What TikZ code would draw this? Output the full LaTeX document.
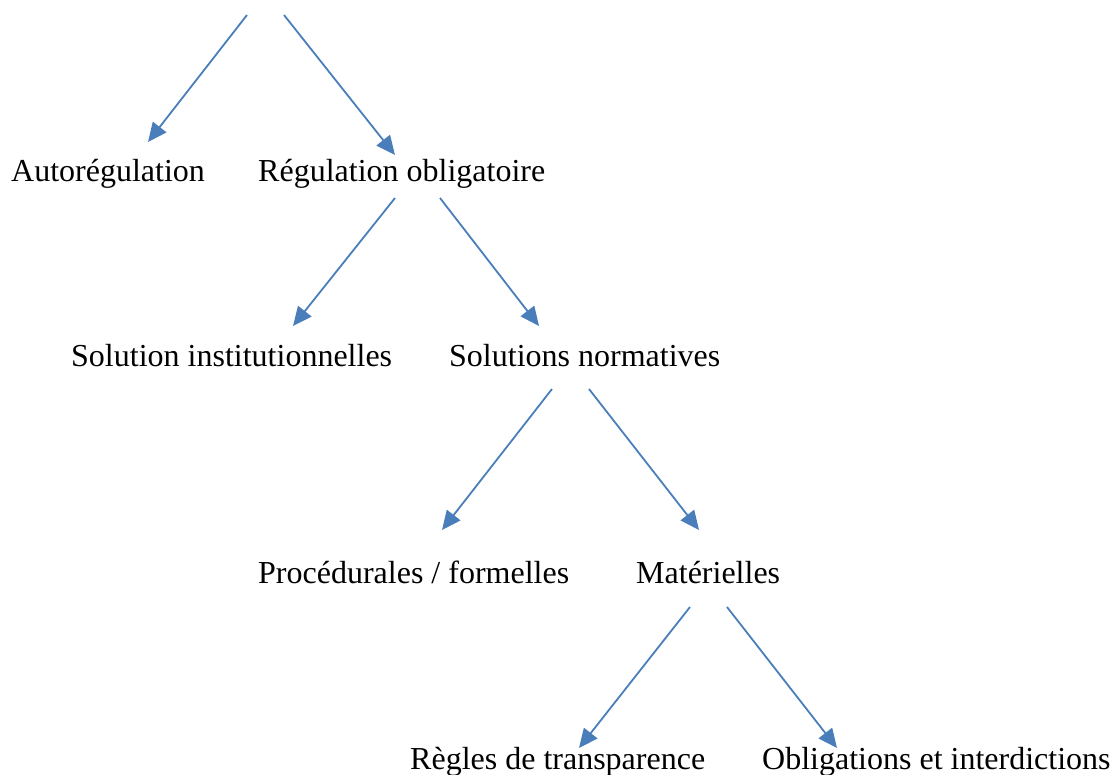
\documentclass[tikz,border=0pt]{standalone}
\usepackage{fontspec}
\setmainfont{Liberation Serif}
\usetikzlibrary{arrows.meta}
\definecolor{bleu}{RGB}{74,126,187}

\begin{document}
\begin{tikzpicture}[x=1pt,y=-1pt,
  fleche/.style={draw=bleu,line width=1.8pt,-{Triangle[length=19pt,width=17pt]},fill=bleu},
  txt/.style={anchor=base west,inner sep=0pt,font=\fontsize{32}{38}\selectfont}]
\useasboundingbox(0,0)rectangle(1111,774);
\node[txt](auto) at(11,181){Autorégulation};
\node[txt](oblig) at(258,181){Régulation obligatoire};
\node[txt](inst) at(71,366){Solution institutionnelles};
\node[txt](norm) at(449,366){Solutions normatives};
\node[txt](proc) at(258,583){Procédurales / formelles};
\node[txt](mat) at(636,583){Matérielles};
\node[txt](transp) at(410,769){Règles de transparence};
\node[txt](interd) at(762,769){Obligations et interdictions};
\coordinate(a1) at(247,15);\coordinate(b1) at(148,142);
\coordinate(a2) at(284,15);\coordinate(b2) at(395,155);
\coordinate(a3) at(395,198);\coordinate(b3) at(293,326);
\coordinate(a4) at(440,198);\coordinate(b4) at(539,326);
\coordinate(a5) at(552,389);\coordinate(b5) at(442,530);
\coordinate(a6) at(589,389);\coordinate(b6) at(699,530);
\coordinate(a7) at(690,607);\coordinate(b7) at(579,748);
\coordinate(a8) at(727,607);\coordinate(b8) at(837,748);
\foreach \i in {1,...,8}{\draw[fleche](a\i)--(b\i);}
\end{tikzpicture}
\end{document}
